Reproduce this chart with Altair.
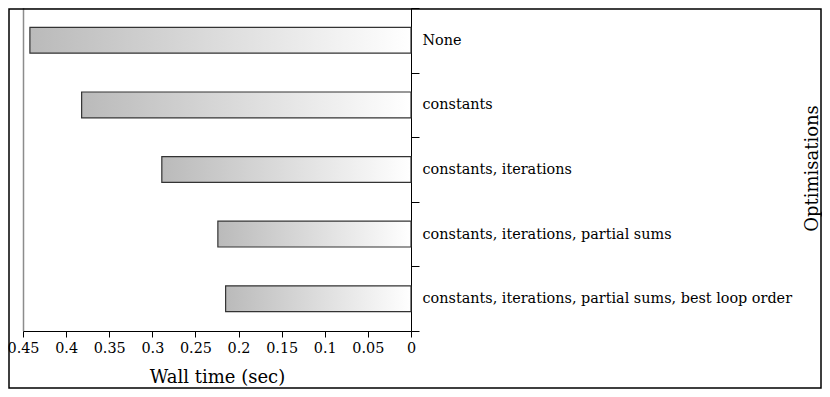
import altair as alt
import pandas as pd

categories = [
    "None",
    "constants",
    "constants, iterations",
    "constants, iterations, partial sums",
    "constants, iterations, partial sums, best loop order",
]
wall_time = [0.442, 0.382, 0.289, 0.224, 0.215]
x_ticks = [0.45, 0.4, 0.35, 0.3, 0.25, 0.2, 0.15, 0.1, 0.05, 0]

df = pd.DataFrame({"opt": categories, "t": wall_time})

FONT = "DejaVu Serif"
W, H = 388, 323
PADL, PADT = 15, 0
SVGW, SVGH = 814, 381

grad = alt.LinearGradient(
    gradient="linear",
    stops=[
        alt.GradientStop(color="#bababa", offset=0),
        alt.GradientStop(color="#ffffff", offset=1),
    ],
    x1=0, x2=1, y1=0, y2=0,
)

bars = alt.Chart(df).mark_bar(
    color=grad, stroke="#333333", strokeWidth=1.2,
    height=alt.RelativeBandSize(band=0.4),
).encode(
    x=alt.X(
        "t:Q",
        scale=alt.Scale(domain=[0, 0.45], reverse=True, nice=False, zero=True),
        axis=alt.Axis(
            values=x_ticks, format="~g", title="Wall time (sec)",
            titleFont=FONT, titleFontSize=18, titleFontWeight="normal",
            titleColor="black", titleY=46, titleBaseline="middle",
            labelFont=FONT, labelFontSize=14.4, labelColor="black",
            labelPadding=4, tickSize=6, tickColor="black",
            domainColor="black", grid=False, labelFlush=False,
        ),
    ),
    y=alt.Y(
        "opt:N", sort=categories,
        scale=alt.Scale(paddingInner=0, paddingOuter=0),
        axis=alt.Axis(
            orient="right", title="Optimisations",
            titleFont=FONT, titleFontSize=18, titleFontWeight="normal",
            titleColor="black", titleAngle=270, titleX=401, titleY=160,
            titleAlign="center", titleBaseline="middle",
            labelFont=FONT, labelFontSize=14.4, labelColor="black",
            labelPadding=3, tickSize=8, tickColor="black", tickBand="extent",
            domainColor="black", grid=False, labelLimit=0,
        ),
    ),
)

frame_left = alt.Chart(pd.DataFrame({"a": [0]})).mark_rule(
    stroke="#8c8c8c", strokeWidth=1.5, clip=False
).encode(x=alt.value(0.5), y=alt.value(0), y2=alt.value(H))

border = alt.Chart(pd.DataFrame({"a": [0]})).mark_rect(
    fill=None, stroke="black", strokeWidth=1.5, clip=False
).encode(
    x=alt.value(-PADL + 1), x2=alt.value(SVGW - PADL - 1),
    y=alt.value(-PADT + 1), y2=alt.value(SVGH - PADT - 1),
)

chart = alt.layer(bars, frame_left, border).properties(
    width=W, height=H,
    autosize=alt.AutoSizeParams(type="none"),
    padding={"left": PADL, "top": PADT, "right": SVGW - PADL - W, "bottom": SVGH - PADT - H},
).configure_view(stroke="#8c8c8c", strokeWidth=1.5).configure(background="white")

chart.save("out.html", embed_options={"renderer": "svg", "actions": False})
